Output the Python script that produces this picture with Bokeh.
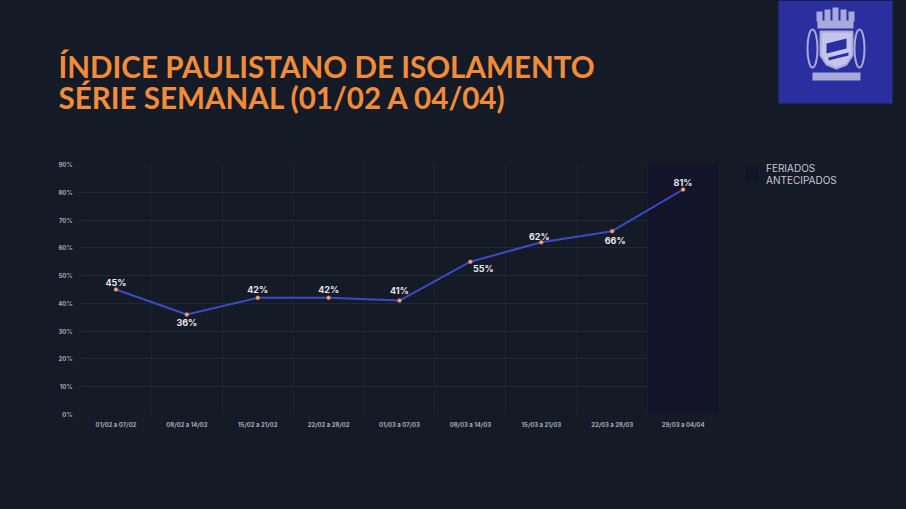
from bokeh.plotting import figure
from bokeh.layouts import row, column
from bokeh.models import (ColumnDataSource, FactorRange, Range1d, FixedTicker, PrintfTickFormatter,
                          LabelSet, Label, Legend, LegendItem)
from bokeh.embed import file_html
from bokeh.resources import INLINE
from bokeh.core.properties import value

# ---- data ----
weeks = ["01/02 a 07/02", "08/02 a 14/02", "15/02 a 21/02", "22/02 a 28/02", "01/03 a 07/03",
         "08/03 a 14/03", "15/03 a 21/03", "22/03 a 28/03", "29/03 a 04/04"]
isolation = [45, 36, 42, 42, 41, 55, 62, 66, 81]
holiday_weeks = ["29/03 a 04/04"]
y_ticks = [0, 10, 20, 30, 40, 50, 60, 70, 80, 90]
title_lines = ["ÍNDICE PAULISTANO DE ISOLAMENTO", "SÉRIE SEMANAL (01/02 A 04/04)"]
legend_label = "FERIADOS\nANTECIPADOS"

# label placement (style)
label_dx = [0, 0, 0, 0, 0, 13, -2, 3, 0]
label_dy = [7, -8, 8, 8, 10, -7, 6, -9, 7]

BG = "#141a26"
BAND = "#131429"
W, H = 906, 509
H_HEAD = 120
W_MAIN, W_SIDE = 735, 171
H_BODY = H - H_HEAD


def no_align(f):
    try:
        f.frame_align = False
    except Exception:
        pass


# ---- header: title + logo ----
hd = figure(width=W, height=H_HEAD, x_range=Range1d(0, W), y_range=Range1d(H_HEAD, 0),
            output_backend="svg", toolbar_location=None, background_fill_color=BG,
            border_fill_color=BG, outline_line_color=None, min_border=0)
hd.axis.visible = False
hd.grid.visible = False
for i, t in enumerate(title_lines):
    hd.add_layout(Label(x=58, y=66 + 31 * i, text=t, text_font="Lato", text_font_style="bold",
                        text_font_size="29.6px", text_color="#f28c3a", text_baseline="alphabetic"))

LOGO = "#2b2e9e"
LAV = "#a7aadb"
hd.quad(left=[778], right=[892], top=[0], bottom=[103], fill_color=LOGO, line_color=None)
# crown
hd.quad(left=[817], right=[853], top=[20], bottom=[28], fill_color=LAV, line_color=None)
hd.quad(left=[816, 824, 832, 840, 848], right=[822, 830, 838, 846, 854],
        top=[11, 9, 7, 9, 11], bottom=[21, 21, 21, 21, 21], fill_color=LAV, line_color=None)
# wreath
hd.ellipse(x=[812, 859], y=[48, 48], width=[10, 10], height=[38, 38], fill_alpha=0,
           line_color=LAV, line_width=2)
# shield
hd.patch(x=[820, 852, 852, 846, 836, 826, 820], y=[31, 31, 55, 64, 68, 64, 55],
         fill_color="#c3c5ea", line_color=LAV, line_width=2)
hd.patch(x=[826, 846, 846, 826], y=[43, 38, 48, 53], fill_color=LOGO, line_color=None)
hd.patch(x=[828, 848, 848, 828], y=[57, 52, 55, 60], fill_color=LOGO, line_color=None)
# ribbon
hd.quad(left=[812], right=[860], top=[72], bottom=[80], fill_color=LAV, line_color=None)

# ---- main chart ----
p = figure(width=W_MAIN, height=H_BODY, x_range=FactorRange(*weeks, range_padding=0),
           y_range=Range1d(0, 90), output_backend="svg", toolbar_location=None,
           background_fill_color=BG, border_fill_color=BG, outline_line_color=None,
           min_border_left=80, min_border_right=17, min_border_top=164 - H_HEAD,
           min_border_bottom=95)

p.vbar(x=holiday_weeks, top=[y_ticks[-1]] * len(holiday_weeks), bottom=0, width=1,
       fill_color=BAND, line_color=None)

p.ygrid.ticker = FixedTicker(ticks=y_ticks)
p.ygrid.grid_line_color = "#212836"
p.xgrid.ticker = FixedTicker(ticks=list(range(len(weeks) + 1)))
p.xgrid.grid_line_color = "#1c2330"

p.yaxis.ticker = FixedTicker(ticks=y_ticks)
p.yaxis.formatter = PrintfTickFormatter(format="%d%%")
for ax in (p.xaxis[0], p.yaxis[0]):
    ax.axis_line_color = None
    ax.major_tick_line_color = None
    ax.minor_tick_line_color = None
    ax.major_label_text_color = "#a4a8b4"
    ax.major_label_text_font = "Inter"
    ax.major_label_text_font_style = "bold"
    ax.major_label_text_font_size = "6px"
p.yaxis.major_label_standoff = 2
p.xaxis.major_label_standoff = 0

src = ColumnDataSource(dict(week=weeks, v=isolation,
                            txt=[f"{v}%" for v in isolation], dx=label_dx, dy=label_dy))
p.line("week", "v", source=src, line_color="#3d49c6", line_width=2)
p.scatter("week", "v", source=src, size=4, fill_color="#f2a57c", line_color="#c0643f", line_width=0.5)
p.add_layout(LabelSet(x="week", y="v", text="txt", source=src, x_offset="dx", y_offset="dy",
                      text_align="center", text_baseline="middle", text_font=value("Inter"),
                      text_font_style="bold", text_font_size="9px", text_color="#e6e7ee"))

# ---- side: legend ----
s = figure(width=W_SIDE, height=H_BODY, x_range=Range1d(0, W_SIDE), y_range=Range1d(H_BODY, 0),
           output_backend="svg", toolbar_location=None, background_fill_color=BG,
           border_fill_color=BG, outline_line_color=None, min_border=0)
s.axis.visible = False
s.grid.visible = False
# zero-size proxy glyph, only used to give the legend its swatch
swatch = s.quad(left=[0], right=[0], top=[0], bottom=[0], fill_color=BAND, line_color=None)
legend = Legend(items=[LegendItem(label=legend_label, renderers=[swatch])], location=(8, 323),
                margin=0, padding=0, border_line_color=None, background_fill_alpha=0,
                glyph_width=17, glyph_height=18, label_standoff=6,
                label_text_font="Inter", label_text_font_size="10px", label_text_color="#c6c8d2")
s.add_layout(legend)

for f in (hd, p, s):
    no_align(f)

layout = column(hd, row(p, s, spacing=0), spacing=0)
html = file_html(layout, INLINE)
html = html.replace("<head>", "<head><style>html,body{background:%s;}</style>" % BG, 1)
open("out.html", "w").write(html)
